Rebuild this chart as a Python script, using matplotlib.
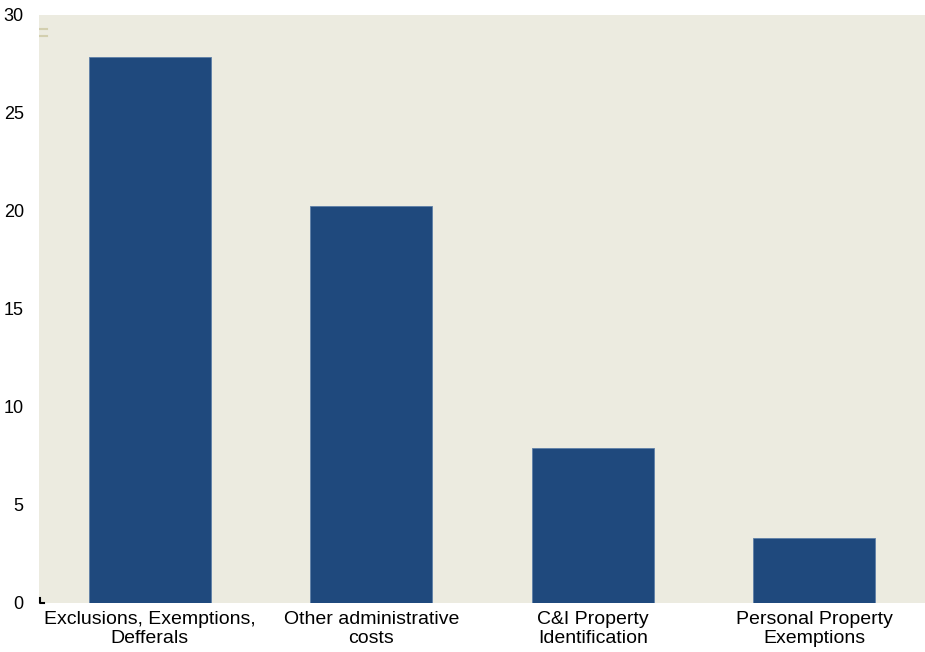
import matplotlib.pyplot as plt
import numpy as np

categories = ["Exclusions, Exemptions,\nDefferals", "Other administrative\ncosts",
              "C&I Property\nIdentification", "Personal Property\nExemptions"]
values = [27.85, 20.25, 7.9, 3.3]
yticks = [0, 5, 10, 15, 20, 25, 30]

plt.rcParams["font.family"] = ["Liberation Sans", "DejaVu Sans"]

fig = plt.figure(figsize=(9.25, 6.52), dpi=100)
ax = fig.add_axes([0.0422, 0.0752, 0.9578, 0.9018])
ax.set_facecolor("#ECEBE0")

x = np.arange(len(categories))
ax.bar(x, values, width=0.55, color="#1F497D", edgecolor="#5E7FA8", linewidth=0.6)

ax.set_xlim(-0.5, len(categories) - 0.5)
ax.set_ylim(0, 30)
ax.set_yticks(yticks)
ax.set_yticklabels([str(t) for t in yticks], fontsize=13)
ax.set_xticks(x)
ax.set_xticklabels(categories, fontsize=14, linespacing=1.15)
ax.tick_params(axis="y", length=0, pad=11)
ax.tick_params(axis="x", length=0, pad=6)
for s in ax.spines.values():
    s.set_visible(False)

# small corner mark at the origin
ax.plot([0.0015, 0.0015, 0.006], [0.008, 0.0, 0.0], transform=ax.transAxes,
        color="black", linewidth=1.5, clip_on=False)
# faint marks in the top-left corner
for yy in [0.977, 0.965]:
    ax.plot([0.001, 0.009], [yy, yy], transform=ax.transAxes,
            color="#D3CFAF", linewidth=1.5)

fig.savefig("out.png", dpi=100)
